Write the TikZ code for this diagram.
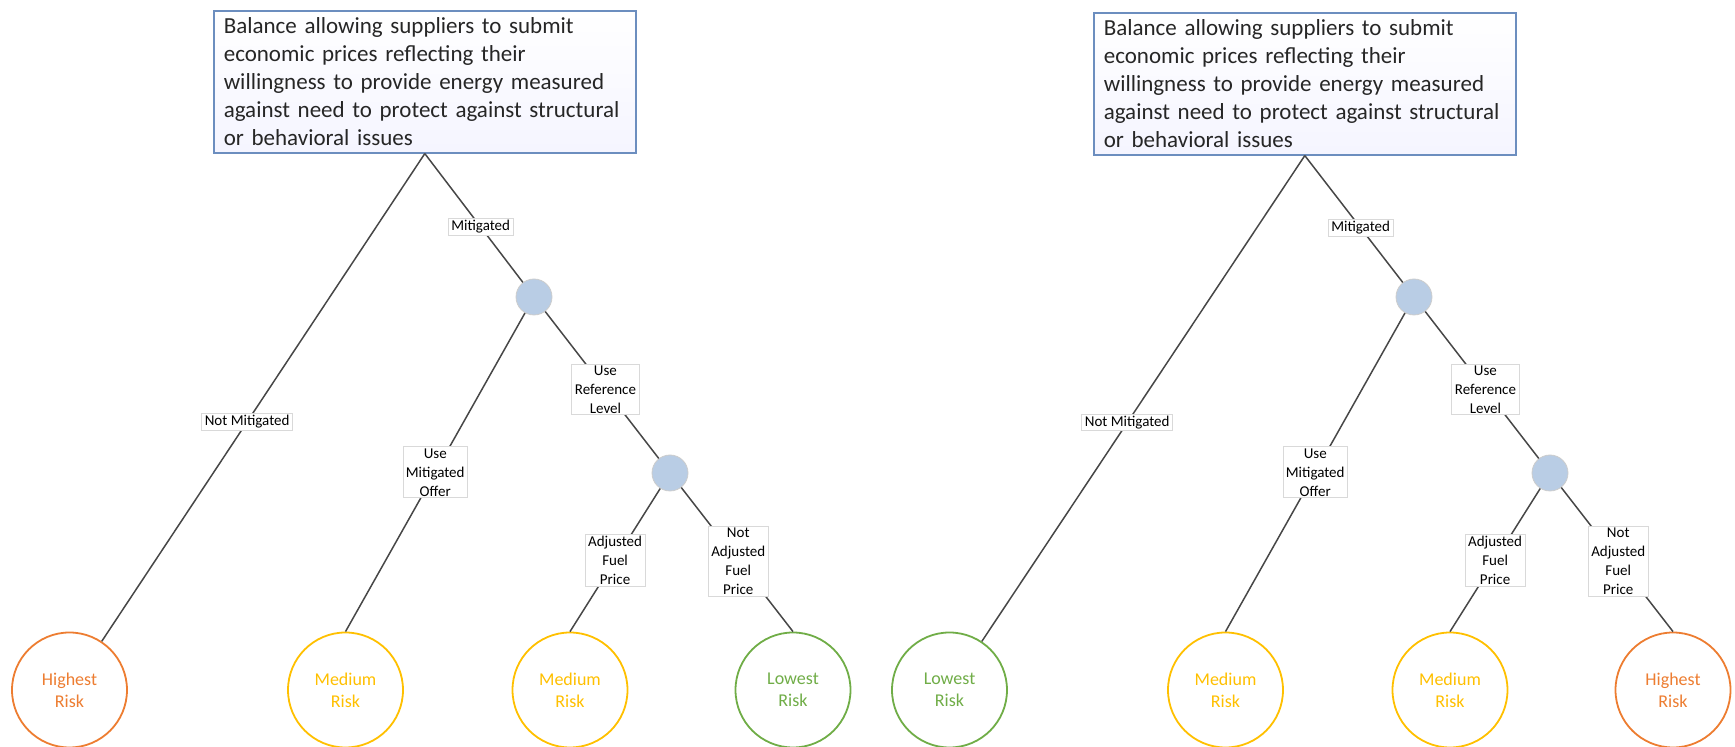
\documentclass[tikz,border=0pt]{standalone}
\usepackage{fontspec}
\setmainfont{Carlito}
\definecolor{orng}{HTML}{ED7D31}
\definecolor{ylw}{HTML}{FFC000}
\definecolor{grn}{HTML}{70AD47}
\definecolor{nodeblue}{HTML}{B9CDE5}
\definecolor{boxblue}{HTML}{6C8EBF}
\definecolor{lblgray}{HTML}{D9D9D9}
\begin{document}
\begin{tikzpicture}[x=0.5pt,y=-0.5pt,
  rootbox/.style={draw=boxblue, line width=0.8pt, top color=white, bottom color=blue!4, anchor=north west, minimum width=211pt, minimum height=71pt, text width=201pt, inner xsep=5pt, align=left, font=\fontsize{11.5}{14}\selectfont, text=black!85},
  chance/.style={circle, fill=nodeblue, draw=black!20, line width=0.4pt, minimum size=18pt, inner sep=0pt},
  leaf/.style={circle, draw=#1, text=#1, line width=0.9pt, fill=white, minimum size=57.5pt, inner sep=0pt, align=center, font=\fontsize{9}{11}\selectfont},
  lbl/.style={fill=white, draw=lblgray, line width=0.4pt, inner xsep=1.5pt, inner ysep=0.8pt, align=center, font=\fontsize{7.5}{9.5}\selectfont, text=black},
  edge/.style={draw=black!72, line width=0.75pt}]
\useasboundingbox (0,0) rectangle (1735,747);
% left tree
\node[rootbox] (rA) at (213,10) {Balance allowing suppliers to submit\\economic prices reflecting their\\willingness to provide energy measured\\against need to protect against structural\\or behavioral issues};
\node[chance] (a1) at (534,297) {};
\node[chance] (a2) at (670,473) {};
\node[leaf=orng] (aL1) at (69.5,690) {Highest\\Risk};
\node[leaf=ylw] (aL2) at (345.5,690) {Medium\\Risk};
\node[leaf=ylw] (aL3) at (570,690) {Medium\\Risk};
\node[leaf=grn] (aL4) at (793,690) {Lowest\\Risk};
\draw[edge] (rA.south) -- node[lbl,pos=0.55]{Not Mitigated} (aL1);
\draw[edge] (rA.south) -- node[lbl,pos=0.57]{Mitigated} (a1);
\draw[edge] (a1) -- node[lbl]{Use\\Mitigated\\Offer} (aL2.north);
\draw[edge] (a1) -- node[lbl,pos=0.53]{Use\\Reference\\Level} (a2);
\draw[edge] (a2) -- node[lbl]{Adjusted\\Fuel\\Price} (aL3.north);
\draw[edge] (a2) -- node[lbl,pos=0.51]{Not\\Adjusted\\Fuel\\Price} (aL4.north);
% right tree
\node[rootbox] (rB) at (1093,12) {Balance allowing suppliers to submit\\economic prices reflecting their\\willingness to provide energy measured\\against need to protect against structural\\or behavioral issues};
\node[chance] (b1) at (1414,297) {};
\node[chance] (b2) at (1550,473) {};
\node[leaf=grn] (bL1) at (949.5,690) {Lowest\\Risk};
\node[leaf=ylw] (bL2) at (1225.5,690) {Medium\\Risk};
\node[leaf=ylw] (bL3) at (1450,690) {Medium\\Risk};
\node[leaf=orng] (bL4) at (1673,690) {Highest\\Risk};
\draw[edge] (rB.south) -- node[lbl,pos=0.55]{Not Mitigated} (bL1);
\draw[edge] (rB.south) -- node[lbl,pos=0.57]{Mitigated} (b1);
\draw[edge] (b1) -- node[lbl]{Use\\Mitigated\\Offer} (bL2.north);
\draw[edge] (b1) -- node[lbl,pos=0.53]{Use\\Reference\\Level} (b2);
\draw[edge] (b2) -- node[lbl]{Adjusted\\Fuel\\Price} (bL3.north);
\draw[edge] (b2) -- node[lbl,pos=0.51]{Not\\Adjusted\\Fuel\\Price} (bL4.north);
\end{tikzpicture}
\end{document}
